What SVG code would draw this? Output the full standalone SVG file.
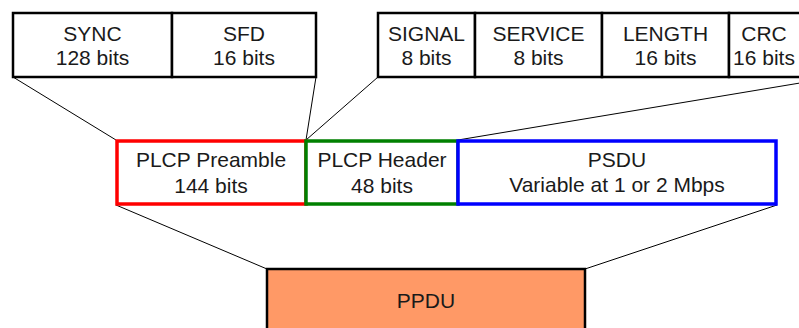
<svg xmlns="http://www.w3.org/2000/svg" width="799" height="328" viewBox="0 0 799 328">
<style>
text{font-family:"Liberation Sans",Arial,sans-serif;font-size:21px;fill:#1a1a1a;text-anchor:middle}
.f{fill:#fff;stroke:#000;stroke-width:2.5}
.c{stroke:#000;stroke-width:1;fill:none}
</style>
<rect width="799" height="328" fill="#fff"/>
<g id="connectors">
<line class="c" x1="13" y1="77" x2="116" y2="140"/>
<line class="c" x1="316" y1="77" x2="306" y2="140"/>
<line class="c" x1="378" y1="77" x2="306" y2="140"/>
<line class="c" x1="836" y1="77" x2="458" y2="140"/>
<line class="c" x1="116" y1="205" x2="267" y2="269"/>
<line class="c" x1="777" y1="205" x2="585" y2="269"/>
</g>
<g id="sync"><rect class="f" x="13" y="13" width="159" height="64"/><text x="92.5" y="41">SYNC</text><text x="92.5" y="65">128 bits</text></g>
<g id="sfd"><rect class="f" x="172" y="13" width="144" height="64"/><text x="244" y="41">SFD</text><text x="244" y="65">16 bits</text></g>
<g id="signal"><rect class="f" x="378" y="13" width="97" height="64"/><text x="426.5" y="41">SIGNAL</text><text x="426.5" y="65">8 bits</text></g>
<g id="service"><rect class="f" x="475" y="13" width="127" height="64"/><text x="538.5" y="41">SERVICE</text><text x="538.5" y="65">8 bits</text></g>
<g id="length"><rect class="f" x="602" y="13" width="127" height="64"/><text x="665.5" y="41">LENGTH</text><text x="665.5" y="65">16 bits</text></g>
<g id="crc"><rect class="f" x="729" y="13" width="72" height="64"/><text x="764" y="41">CRC</text><text x="764" y="65">16 bits</text></g>
<g id="preamble"><rect x="117" y="141" width="189" height="63" fill="#fff" stroke="#ff0000" stroke-width="3.5"/><text x="211" y="167">PLCP Preamble</text><text x="211" y="193">144 bits</text></g>
<g id="header"><rect x="306" y="141" width="152" height="63" fill="#fff" stroke="#008000" stroke-width="3.5"/><text x="382" y="167">PLCP Header</text><text x="382" y="193">48 bits</text></g>
<g id="psdu"><rect x="458" y="141" width="318" height="63" fill="#fff" stroke="#0000ff" stroke-width="3.5"/><text x="617" y="167">PSDU</text><text x="617" y="192">Variable at 1 or 2 Mbps</text></g>
<g id="ppdu"><rect x="267" y="269" width="318" height="70" fill="#ff9966" stroke="#000" stroke-width="2.5"/><text x="426" y="308">PPDU</text></g>
</svg>
